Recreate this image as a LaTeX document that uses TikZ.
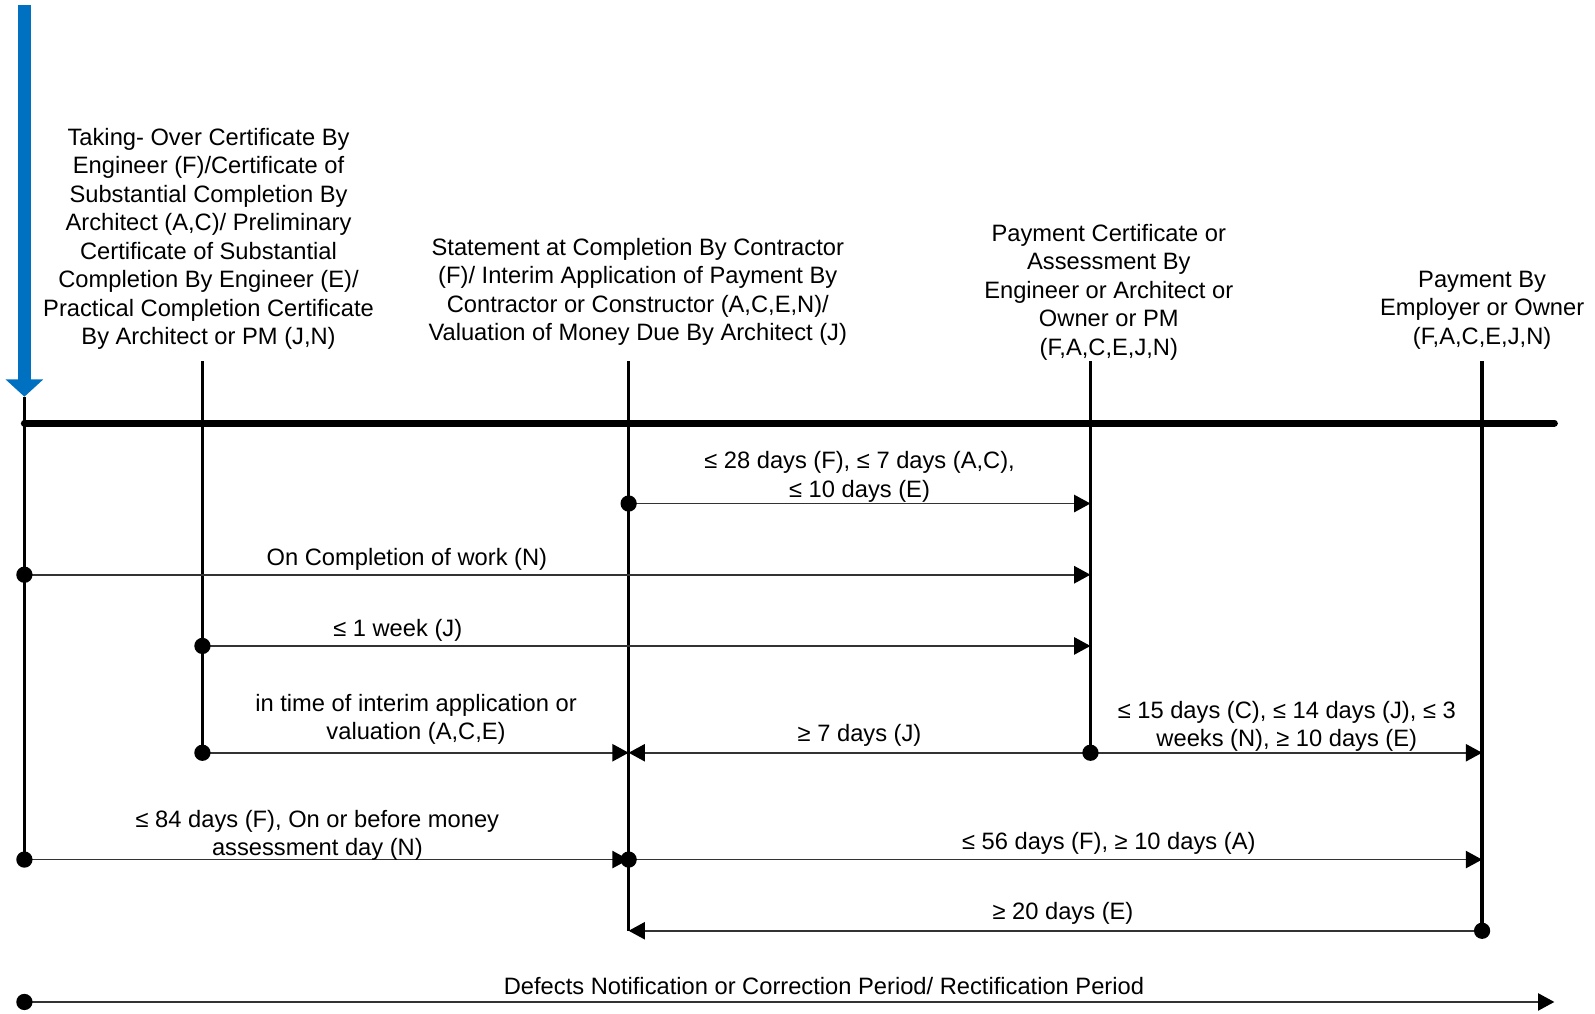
\documentclass[tikz,border=0pt]{standalone}
\usepackage{fontspec}
\setmainfont{Liberation Sans}
\usetikzlibrary{arrows.meta}
\definecolor{flowblue}{HTML}{0070C0}
\begin{document}
\begin{tikzpicture}[x=1pt,y=-1pt,
  lbl/.style={font=\fontsize{23.3}{28}\selectfont, inner sep=0pt, align=center},
  eventline/.style={line width=3.5pt, black},
  timeline/.style={line width=7pt, black, line cap=round},
  span/.style={line width=1.5pt, draw=black!80,
    -{Triangle[length=16pt,width=17pt,color=black]}},
  spandot/.style={fill=black},
]
\useasboundingbox (0,0) rectangle (1568,996);

% event positions along the time axis
\coordinate (E0) at (24,416);
\coordinate (E1) at (199,416);
\coordinate (E2) at (618,416);
\coordinate (E3) at (1072,416);
\coordinate (E4) at (1457,416);
\coordinate (Tend) at (1528,416);

% rows of the interval arrows
\coordinate (r1) at (0,495);
\coordinate (r2) at (0,565);
\coordinate (r3) at (0,635);
\coordinate (r4) at (0,740);
\coordinate (r5) at (0,845);
\coordinate (r6) at (0,915);
\coordinate (r7) at (0,985);
\coordinate (top) at (0,355);
\coordinate (Dend) at (1528,985);

% event labels
\node[lbl] (tA) at (205,235) {Taking- Over Certificate By\\Engineer (F)/Certificate of\\Substantial Completion By\\Architect (A,C)/ Preliminary\\Certificate of Substantial\\Completion By Engineer (E)/\\Practical Completion Certificate\\By Architect or PM (J,N)};
\node[lbl] (tB) at (627,287) {Statement at Completion By Contractor\\(F)/ Interim Application of Payment By\\Contractor or Constructor (A,C,E,N)/\\Valuation of Money Due By Architect (J)};
\node[lbl] (tC) at (1090,287) {Payment Certificate or\\Assessment By\\Engineer or Architect or\\Owner or PM\\(F,A,C,E,J,N)};
\node[lbl] (tD) at (1457,305) {Payment By\\Employer or Owner\\(F,A,C,E,J,N)};

% start marker
\coordinate (S) at (24,5);
\coordinate (Stip) at (24,390);
\draw[flowblue, line width=12.5pt, -{Triangle[length=17pt,width=36pt]}] (S) -- (Stip);

% event lines
\draw[eventline] (Stip) -- (E0 |- r5);
\draw[eventline] (E1 |- top) -- (E1 |- r4);
\draw[eventline] (E2 |- top) -- (E2 |- r6);
\draw[eventline] (E3 |- top) -- (E3 |- r4);
\draw[eventline] (E4 |- top) -- (E4 |- r6);

% time axis
\draw[timeline] (E0) -- (Tend);

% interval arrows
\draw[span] (E2 |- r1) -- (E3 |- r1);
\draw[span] (E0 |- r2) -- (E3 |- r2);
\draw[span] (E1 |- r3) -- (E3 |- r3);
\draw[span] (E1 |- r4) -- (E2 |- r4);
\draw[span] (E3 |- r4) -- (E2 |- r4);
\draw[span] (E3 |- r4) -- (E4 |- r4);
\draw[span] (E0 |- r5) -- (E2 |- r5);
\draw[span] (E2 |- r5) -- (E4 |- r5);
\draw[span] (E4 |- r6) -- (E2 |- r6);
\draw[span] (E0 |- r7) -- (Dend);

% start dots
\foreach \p in {{E2 |- r1},{E0 |- r2},{E1 |- r3},{E1 |- r4},{E3 |- r4},{E0 |- r5},{E2 |- r5},{E4 |- r6},{E0 |- r7}}
  \fill[spandot] (\p) circle[radius=8pt];

% interval labels
\node[lbl] (l1) at (845,469) {≤ 28 days (F), ≤ 7 days (A,C),\\≤ 10 days (E)};
\node[lbl] (l2) at (400,550) {On Completion of work (N)};
\node[lbl] (l3) at (391,620) {≤ 1 week (J)};
\node[lbl] (l4) at (409,707) {in time of interim application or\\valuation (A,C,E)};
\node[lbl] (l5) at (845,723) {≥ 7 days (J)};
\node[lbl] (l6) at (1265,714) {≤ 15 days (C), ≤ 14 days (J), ≤ 3\\weeks (N), ≥ 10 days (E)};
\node[lbl] (l7) at (312,821) {≤ 84 days (F), On or before money\\assessment day (N)};
\node[lbl] (l8) at (1090,829) {≤ 56 days (F), ≥ 10 days (A)};
\node[lbl] (l9) at (1045,898) {≥ 20 days (E)};
\node[lbl] (l10) at (810,969) {Defects Notification or Correction Period/ Rectification Period};
\end{tikzpicture}
\end{document}
